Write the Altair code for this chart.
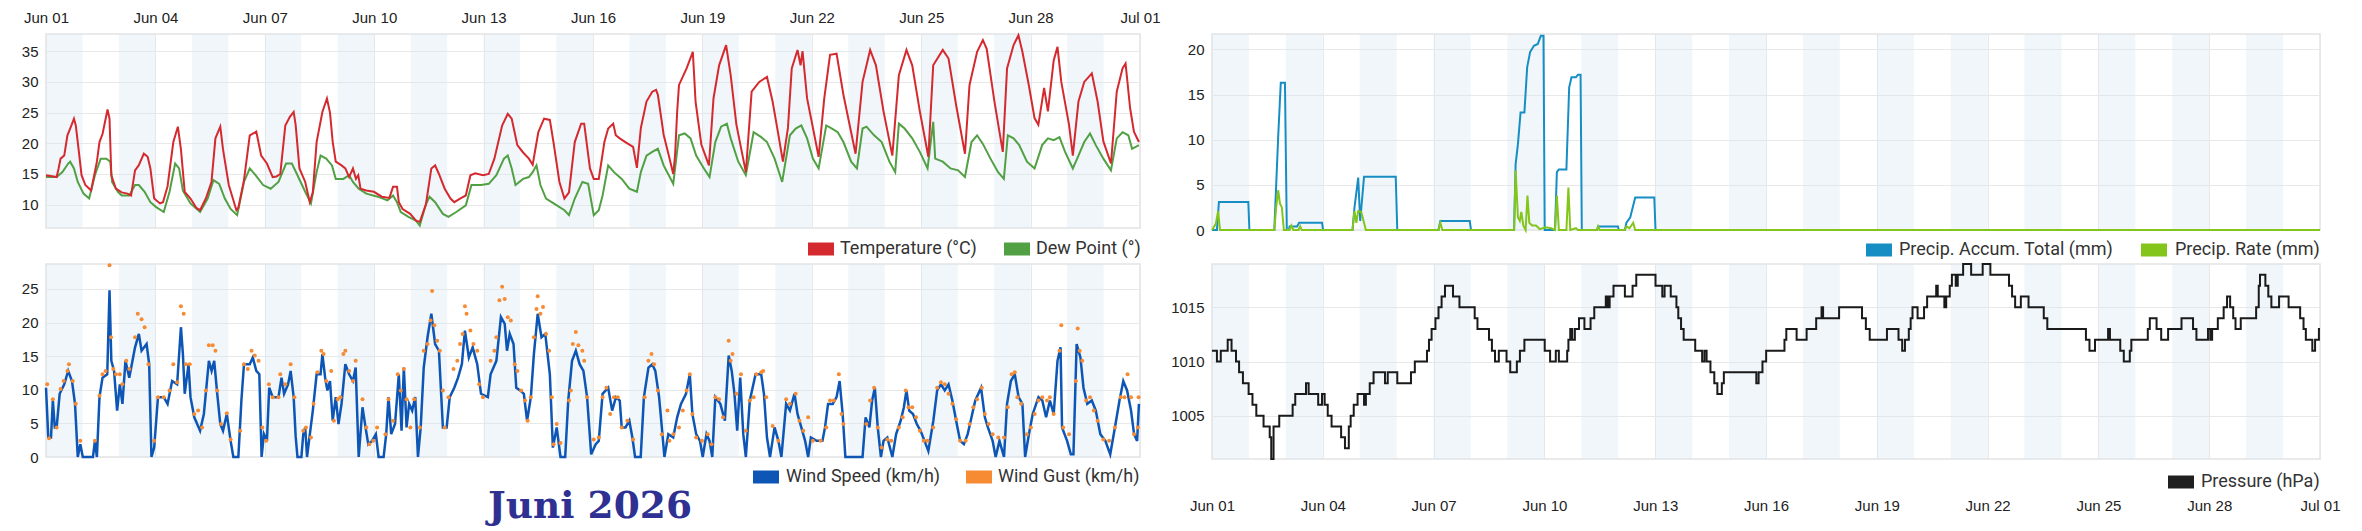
import altair as alt
import pandas as pd

# ── categories / tick labels ─────────────────────────────────────────
tick_labels = ["Jun 01", "Jun 04", "Jun 07", "Jun 10", "Jun 13", "Jun 16",
               "Jun 19", "Jun 22", "Jun 25", "Jun 28", "Jul 01"]
days = list(range(1, 31))

# ── series: (hours since Jun 01 00:00, value) ───
temperature = [
    (0, 14.8), (7, 14.5), (8.3, 15.9), (9.6, 17.5), (12, 18), (14.1, 21.3), (15.9, 22.4), (18.4, 24),
    (19.6, 22.9), (20.9, 20.2), (23.4, 14.8), (25.9, 13.2), (29.7, 12.3),
    (33.5, 17), (35.2, 20.2), (37.2, 21.5), (40.5, 25.5), (41.8, 24), (43, 14.8), (46, 12.6), (49.8, 12),
    (53.6, 11.8), (56, 11.5), (58.6, 15.6), (61, 16.4), (64.4, 18.3), (66.9, 17.8), (68.7, 15.9), (71.2, 11), (75, 10.2),
    (77, 10.4), (80, 13), (83.8, 20.2), (86.8, 22.7), (88.8, 19), (91.3, 12.1), (95.1, 11), (98.9, 9.5),
    (101.4, 9.1), (105.2, 11), (108.9, 13.7), (111.5, 20.8), (114.7, 22.7), (116.5, 19), (120.3, 13.2), (125.3, 9.1),
    (126.6, 9.5), (130.3, 14), (134.1, 21.3), (138.4, 21.9), (141.6, 18), (145.4, 16.7), (149.2, 14.5), (151.7, 14.6),
    (154.2, 15), (157.5, 22.9), (160.5, 24.3), (163, 25.1), (164.3, 23), (166.8, 15.9), (170.6, 13.7), (173.6, 10.4),
    (175.6, 12), (178.1, 20.2), (181.9, 25.1), (184.9, 27.3), (186.9, 25), (188.7, 20.2), (190.7, 17), (194.5, 16.4), (197, 15.9),
    (199.5, 14.5), (202, 15.9), (204, 14.2), (205.5, 14.8), (207, 12.6), (210.8, 12.3), (215.8, 12.1),
    (221, 11.3), (226, 11.1), (228.4, 12.9), (231, 12.9), (232.2, 10.4), (234.7, 9.3), (239.7, 8.5), (243.5, 7.4),
    (246, 7.2), (250, 10), (253.6, 15.9), (256.1, 16.4), (258.6, 15), (262.4, 12.6), (266.2, 11),
    (268.7, 10.4), (272.5, 11), (276.3, 11.5), (279.3, 14.8), (282.5, 15.1), (287.6, 14.8),
    (291.4, 15), (295.1, 17.5), (300.2, 22.9), (303.9, 24.8), (306.5, 24), (310.2, 19.7), (314, 18.5),
    (317.8, 17.5), (320.3, 16.5), (324, 21.8), (327.8, 24), (331.6, 23.8), (334.1, 20), (337.9, 13.7), (341.2, 11),
    (344.2, 12), (348, 20.2), (352.2, 23.2), (354.2, 23.2), (358, 15.9), (360.5, 14.2), (363.8, 14.2),
    (367.5, 20.2), (370, 22.4), (373.3, 23.2), (375, 21.3), (377.6, 20.8), (381.3, 20.2), (386.4, 19.4), (388.9, 16),
    (391.5, 22.5), (395.2, 26.8), (399, 28.4), (401.5, 28.7), (402.7, 27.9), (406.5, 21.4), (410.3, 17.6), (412.8, 15),
    (414, 18), (415.4, 25.2), (416.6, 29.5), (421.6, 32.2), (425.7, 34.9), (427.5, 26.8), (431.3, 19.8), (436.3, 16.4),
    (439.3, 27.3), (443, 32.7), (447.6, 36), (450.6, 31.1), (454.4, 23), (460.6, 15.3),
    (464.4, 28.4), (469.4, 30), (474.5, 30.8), (478.2, 26.8), (482, 21.4), (485, 17),
    (488.3, 22.5), (490.8, 32.2), (494.6, 35.2), (496.6, 32.7), (497.9, 35), (500.9, 27.3), (508.5, 17.8),
    (512.2, 27.3), (516, 34.4), (520.3, 34.6), (524.8, 27.9), (532.8, 18.3),
    (537.4, 30), (542.4, 35.2), (546.2, 32.7), (551.2, 25.2), (557, 18),
    (561.3, 31.1), (566.3, 35.2), (570.1, 32.7), (575.1, 25.2), (580.7, 17.8),
    (583.9, 32.7), (590.2, 35.2), (594, 33.8), (599, 26.2), (604.8, 18.3),
    (607.8, 29.5), (612.8, 34.9), (616.6, 36.8), (619.1, 35.4), (624.2, 26.8), (629.7, 18.6),
    (632.5, 32.2), (636.8, 36), (640, 37.6), (642.6, 34.9), (646.8, 29.5), (650.6, 24.1),
    (653.1, 23), (656.9, 29), (659.4, 25.2), (663.2, 33.5), (665.7, 35.7), (668.2, 30), (673.3, 23), (675.8, 18),
    (679.5, 26.8), (683.3, 30), (688.3, 31.4), (692.1, 26.8), (695.9, 20.3), (700.9, 16.7),
    (704.7, 28.4), (708.5, 32.2), (710.5, 33), (713.5, 25.7), (716, 21.9), (719.3, 20.2),
]

dew_point = [
    (0, 14.5), (7, 14.5), (10.8, 15.3), (14.6, 16.7), (15.9, 17), (18.4, 15.9), (20.9, 13.7), (24.7, 11.8), (28.4, 11),
    (32.2, 14.8), (36, 17.5), (39.8, 17.5), (42.3, 17), (43.5, 13.7), (47.3, 12.1), (49.8, 11.5), (54.8, 11.5),
    (58.6, 13.2), (61.1, 13.2), (64.9, 12.1), (68.7, 10.4), (72.5, 9.6), (77.5, 8.8), (81.3, 12.1), (85, 16.7),
    (87.6, 15.9), (90.1, 12.3), (95.1, 10.2), (101.4, 8.8), (106.4, 11), (110.2, 14), (114, 13.4), (117.7, 11),
    (121.5, 9.3), (125.8, 8.3), (130.3, 13.7), (134.1, 15.9), (137.9, 14.8), (142.9, 13.2), (147.9, 12.6), (153, 13.7),
    (158, 16.7), (161.8, 16.7), (165.5, 14.8), (170.6, 12.1), (174.4, 10.2), (178.1, 15.3), (180.7, 18), (184.4, 17.5),
    (188.2, 16.4), (190.7, 14.2), (195.7, 14.2), (199.5, 14.8), (202, 13.7), (205.8, 12.6), (210.8, 11.8), (218.4, 11.3),
    (224.7, 10.7), (228.4, 11.5), (231, 10.4), (233.5, 8.8), (238.5, 8), (243.5, 7.4), (246, 6.6), (249.8, 9.9),
    (252.4, 11.3), (256.1, 10.4), (261.2, 8.5), (264.9, 8), (270, 8.8), (276.3, 9.9), (280, 13.2), (286.3, 13.2),
    (291.4, 13.4), (296.4, 14.8), (301.4, 17.5), (303.9, 18), (306.5, 15.9), (309, 13.2), (314, 14.2), (317.8, 14.5),
    (320.3, 15.3), (322.8, 16.4), (325.4, 13.2), (329.1, 11), (334.1, 10.2), (341.2, 9.1), (344.2, 8.3), (348, 11),
    (353, 13.7), (356.8, 13.4), (360.5, 8.3), (363.8, 9.1), (366.3, 11.5), (370, 16.4), (373.8, 15.3), (378.9, 14.2),
    (383.9, 12.6), (388.9, 12.1), (391.5, 15.3), (395.2, 18), (399, 18.6), (402.7, 19.1), (406.5, 16.4), (412.8, 13.4),
    (416.6, 21.3), (420.4, 21.6), (424.2, 20.8), (427.9, 18), (433, 15.9), (436.7, 14.5), (440.5, 20.2), (444.3, 22.7),
    (448.1, 23.2), (450.6, 20.8), (455.6, 17), (460.6, 14.8), (465.7, 21.8), (470.7, 21), (474.5, 20.2), (479.5, 17.5),
    (484.5, 13.7), (489.6, 21.3), (493.4, 22.4), (497.1, 22.9), (500.9, 20.8), (504.7, 17.5), (508.5, 15.9),
    (513.5, 22.9), (517.3, 22.4), (521.1, 21.8), (524.8, 20.2), (529.9, 17), (533.7, 15.9), (537.4, 22.4), (540, 22.7),
    (545, 21.3), (550, 20.2), (555.1, 17), (558.9, 15.3), (561.3, 23.2), (565.1, 22.4), (570.1, 20.8), (575.1, 18.6),
    (580.2, 15.9), (583.9, 23.5), (585.2, 17.5), (590.2, 17), (595.3, 15.9), (600.3, 15.6), (604.8, 14.5),
    (609.1, 20.2), (612.8, 21.3), (616.6, 19.9), (621.6, 17.5), (626.6, 15.3), (630.4, 14.2), (633, 21.3),
    (636.8, 20.8), (640.5, 19.7), (645.6, 17), (650.6, 15.9), (655.6, 19.7), (659.4, 20.8), (663.2, 20.5), (667, 21),
    (670.7, 18.6), (675.8, 15.9), (679.5, 18), (683.3, 20.2), (687.1, 21.6), (690.9, 19.7), (695.9, 17.5),
    (700.9, 15.6), (704.7, 20.8), (708.5, 21.8), (712.3, 21.3), (714.8, 19.1), (719.3, 19.7),
]

wind_speed = [
    (0, 10.3), (1.5, 2.9), (3.3, 2.9), (4.5, 8.4), (5.8, 4.4), (7, 4.4), (9, 9.4), (12, 10.8), (14.6, 12.8), (17.1, 11.3),
    (19.1, 7.9), (20.9, 0), (22.6, 1.9), (24.2, 0), (30.9, 0), (32.2, 2.4), (33.5, 0), (35.2, 8.9), (37.2, 11.8),
    (40.3, 12.3), (41.8, 24.8), (43, 14.3), (44.8, 12.8), (46.8, 6.9), (48.6, 10.8), (50.3, 7.9), (52.3, 14.3),
    (54.8, 11.8), (58.6, 16.3), (61.1, 18.3), (62.9, 15.8), (66.2, 16.8), (67.9, 13.8), (69.4, 0), (71.2, 1.4),
    (73.7, 8.9), (77.5, 8.9), (80, 7.9), (83, 11.3), (86.3, 10.8), (88.8, 19.3), (90.1, 15.3), (91.3, 9.4), (93.8, 13.8),
    (95.1, 8.9), (97.6, 5.9), (101.4, 3.9), (103.9, 6.4), (107.2, 14.3), (109, 12.8), (110.7, 14.3), (112.7, 9.4),
    (114.7, 4.9), (116.5, 3.9), (119, 6.4), (121.5, 2.4), (123.3, 0), (126.6, 0), (128.6, 8.4), (130.3, 13.8),
    (134.1, 13.8), (136.1, 14.8), (138.4, 12.8), (140.4, 12.3), (141.9, 0), (143.4, 3.4), (145.4, 2.4), (146.9, 10.3),
    (149.2, 8.9), (153, 8.9), (155, 11.8), (156.7, 9.4), (159.3, 10.8), (161, 12.8), (163, 8.9), (164.3, 3.1),
    (165.5, 0), (168.1, 0), (169.3, 3.4), (170.6, 4.4), (171.8, 0), (173.1, 2.4), (175.6, 6.9), (178.1, 12.3),
    (180.7, 12.3), (181.9, 15.3), (183.7, 11.8), (185.2, 9.9), (186.9, 11.3), (188.7, 5.4), (190.7, 8.9), (192.5, 4.9),
    (194.5, 7.9), (197, 13.8), (199.5, 12.3), (202, 11.3), (203.8, 13.3), (205.8, 0), (208.3, 7.4), (210.3, 4.4),
    (212.1, 1.9), (214.6, 2.4), (217.1, 3.4), (218.9, 0), (222.2, 0), (223.9, 3.4), (225.4, 8.9), (227.2, 3.4),
    (229.7, 4.9), (232.2, 12.3), (234, 3.9), (235.5, 13.3), (237.3, 4.4), (239, 7.9), (241, 6.9), (243, 8.9),
    (244.8, 0), (246.6, 4.4), (248.6, 13.3), (251.1, 17.8), (253.6, 21.3), (256.1, 16.8), (258.6, 15.8), (261.2, 4.4),
    (263.7, 4.4), (265.7, 8.9), (268.7, 10.3), (271.2, 11.8), (273.7, 13.8), (275.7, 18.8), (278.3, 14.8),
    (280.8, 16.3), (283.8, 13.8), (286.3, 9.4), (290.8, 8.9), (292.6, 12.3), (296.4, 14.3), (299.4, 20.8),
    (301.9, 19.8), (303.4, 15.8), (305.2, 18.3), (307.7, 16.8), (309.5, 10.3), (312, 9.9), (314.5, 9.4), (316.6, 5.4),
    (319.1, 8.9), (321.1, 15.3), (323.6, 21.3), (326.1, 17.8), (328.6, 18.3), (331.6, 12.3), (333.6, 1.4),
    (336.1, 4.4), (338.6, 0), (341.7, 0), (343.7, 8.4), (346.2, 14.3), (348.7, 15.8), (351.2, 13.8), (353.7, 12.8),
    (356.1, 8.9), (358.8, 0.4), (361.8, 1.9),
    (363.8, 2.4), (366.3, 9.4), (370, 10.3), (372.6, 6.9), (375.1, 8.9), (377.6, 8.4), (378.9, 4.4), (381.4, 4.4),
    (383.9, 5.4), (385.9, 2.9), (387.7, 0), (391.4, 0), (393.5, 8.9), (396.5, 13.3), (399, 13.8), (401, 12.8),
    (403.5, 8.9), (405.3, 4.4), (407, 0), (409.6, 3.4), (412.8, 2.9), (415.4, 5.9), (417.9, 7.9), (421.2, 9.4),
    (423.7, 12.3), (425.4, 6.4), (427.9, 3.4), (430.4, 2.4), (432.2, 0), (434.7, 3.4), (436.7, 2.4), (438.5, 0),
    (440.5, 8.9), (443.8, 7.9), (446.8, 5.4), (449.3, 15.1), (451.3, 12.8), (453.1, 9.4), (454.9, 3.9), (456.9, 11.8),
    (458.9, 3.4), (460.6, 0), (463.2, 8.4), (467, 12.3), (470.7, 12.3), (472.5, 9.4), (474.5, 2.9), (476.5, 0),
    (479.5, 4.4), (482, 2.4), (484, 0), (487.1, 7.9), (489.6, 6.9), (492.6, 9.4), (494.6, 6.4), (497.1, 4.4),
    (499.6, 2.4), (501.6, 0), (503.4, 2.9), (507.2, 2.4), (511, 2.4), (512.7, 4.4), (514.7, 7.9), (517.8, 7.9),
    (520.3, 8.9), (522.3, 11.3), (524.3, 6.4), (526.1, 0), (537.4, 0), (539.4, 5.9), (541.9, 4.4), (543.7, 8.4),
    (545.5, 10.3), (547.4, 4.4), (549.5, 0), (551.2, 2.4), (553.7, 2.9), (557, 0), (559.5, 3.4), (562.5, 5.4),
    (564.6, 7.4), (566.3, 9.9), (568.1, 6.9), (570.6, 6.4), (573.1, 4.9), (575.6, 3.9), (578.2, 2.4), (580.7, 0.9),
    (584, 5.4), (586.5, 9.9), (589, 10.8), (591.5, 9.9), (594, 10.8), (596.5, 8.4), (599, 5.4), (601.6, 2.4),
    (604.1, 1.9), (606.6, 3.4), (609.1, 5.9), (611.6, 8.4), (615.4, 10.3), (617.9, 5.9), (619.9, 4.4), (623, 2.4),
    (625, 0), (627.5, 2.4), (630.5, 0), (632.5, 7.9), (635, 11.3), (637.6, 12.3), (640.1, 8.9), (642.6, 7.9),
    (644.4, 0), (646.9, 3.4), (649.4, 6.4), (653.2, 8.9), (655.7, 8.4), (658.2, 5.9), (660.7, 8.4), (663.2, 6.4),
    (665.7, 14.3), (667.7, 16.3), (668.7, 4.4), (672, 2.4), (674.5, 0.4), (676.2, 0.4), (678.3, 16.8), (680.8, 14.8),
    (682.8, 10.3), (685.3, 7.9), (688.3, 8.4), (690.9, 6.9), (693.9, 3.4), (697.2, 2.4), (700.4, 0.4), (703.5, 4.4),
    (706.5, 8.4), (709, 11.3), (711.5, 9.9), (714.1, 6.9), (716.1, 3.4), (718.1, 2.4), (719.3, 7.9),
]

wind_gust = [
    (0.8, 10.8), (2, 2.8), (4.5, 8.6), (7, 4.4), (9.6, 10.1), (11.6, 11.3), (14.1, 12.8), (15.1, 13.8), (17.6, 11.3),
    (19.6, 7.9), (22.6, 2.4), (32.2, 2.4), (35.2, 9.1), (37.2, 12.3), (39.2, 12.8), (41.8, 28.5), (42.8, 17.8),
    (44.3, 13.1), (46, 12.3), (48.6, 12.3), (50.3, 10.8), (52.8, 14.3), (54.8, 13.1), (58.6, 17.8), (60.4, 21.3),
    (62.9, 20.5), (64.9, 19.3), (67.4, 13.8), (71.2, 2.4), (73.7, 8.9), (77.5, 8.9), (81.3, 9.9), (83.8, 13.8),
    (86.3, 11.1), (88.8, 22.4), (90.6, 21.3), (92.1, 13.8), (94.6, 13.8), (97.6, 6.4), (100.1, 6.9), (102.7, 4.4),
    (105.2, 9.9), (107.2, 16.6), (109.7, 16.6), (111.5, 15.8), (112.7, 9.9), (115.2, 4.9), (119, 6.5), (121.5, 2.6),
    (127.8, 3.9), (130.3, 13.8), (132.8, 13.1), (135.3, 15.8), (137.4, 15.1), (139.9, 14.3), (142.4, 4.4),
    (144.9, 2.4), (146.7, 10.8), (149.2, 8.9), (153, 8.9), (154.2, 12.3), (157.5, 10.8), (161, 13.8), (163.5, 8.9),
    (169.3, 3.9), (171.1, 4.4), (174.4, 2.9), (176.1, 7.9), (178.6, 12.6), (181.2, 15.8), (182.7, 15.3), (184.4, 11.3),
    (187.7, 12.8), (189.5, 5.4), (192, 8.6), (193.7, 8.9), (195.7, 15.3), (197, 15.8), (199.5, 12.8), (202, 11.3),
    (203.8, 14.3), (208.3, 8.6), (210.8, 4.4), (212.8, 1.9), (215.4, 2.4), (217.9, 4.4), (223.4, 3.4), (225.4, 8.6),
    (228.4, 5.4), (231.5, 12.3), (233.5, 9.9), (235.5, 13.1), (237.3, 8.6), (239.8, 4.4), (242.3, 8.6), (246.1, 4.4),
    (248.6, 15.8), (251.1, 16.8), (253.1, 20.3), (254.1, 24.7), (255.6, 19.6), (257.4, 17.3), (259.2, 15.8),
    (261.2, 9.9), (262.4, 4.4), (264.9, 8.9), (268.2, 13.1), (270.7, 14.3), (272.5, 16.8), (274.2, 18.3),
    (275.7, 22.4), (276.8, 21.3), (279.3, 18.8), (281.3, 16.8), (283.8, 15.8), (285.1, 10.8), (287.6, 8.9),
    (292.6, 14.3), (295.1, 15.8), (296.4, 17.8), (298.4, 23.3), (300.2, 25.3), (301.9, 23.5), (303.9, 20.8),
    (305.9, 20.3), (308.5, 13.8), (310.2, 12.8), (312.7, 9.9), (315.3, 8.4), (317, 5.4), (319.1, 8.9), (321.1, 17.8),
    (322.8, 22), (323.6, 23.9), (325.4, 21.3), (327.1, 22.3), (329.1, 18.3), (331.1, 15.8), (332.9, 8.9),
    (334.1, 1.9), (336.1, 4.9), (338.6, 2.1), (344.2, 8.4), (345.4, 9.9), (346.7, 16.8), (348.7, 18.6), (350.4, 16.6),
    (353, 15.8), (354.2, 14.3), (356.1, 8.9), (360.5, 2.6),
    (363.8, 2.9), (366.3, 8.9), (368.8, 10.3), (371.3, 6.4), (373.8, 8.9), (376.3, 8.9), (378.9, 4.4), (382.6, 5.4),
    (386.4, 2.6), (394, 8.9), (396.5, 14.3), (398.5, 15.3), (400.2, 13.8), (402.7, 9.9), (405.3, 3.4), (409, 6.9),
    (410.3, 2.4), (412.8, 3.4), (416.6, 4.4), (419.1, 6.9), (421.6, 9.9), (423.7, 12.3), (425.4, 6.4), (427.9, 2.9),
    (431.7, 2.4), (435.5, 3.4), (438, 1.9), (440.5, 8.9), (443, 8.6), (445.6, 5.9), (449.3, 17.3), (450.6, 14.3),
    (451.8, 15.3), (454.4, 9.4), (457.4, 12.3), (460.6, 3.9), (463.2, 8.4), (465.7, 8.9), (467.5, 12.3), (470.7, 12.6),
    (472, 12.8), (474, 8.9), (478.2, 4.6), (482, 2.4), (487.1, 8.6), (489.6, 7.9), (493.4, 9.4), (495.9, 5.4),
    (498.4, 3.9), (501.6, 5.9), (504.7, 2.4), (509.8, 2.4), (513.5, 4.4), (516, 8.4), (518.5, 8.4), (521.8, 12.3),
    (523.6, 6.4), (524.8, 4.9), (539.9, 4.9), (542.4, 8.4), (545, 10.3), (547.4, 4.4), (550, 1.4), (553.7, 2.6),
    (556.3, 2.4), (561.3, 4.4), (563.8, 5.9), (565.8, 9.9), (567.6, 7.4), (570.1, 7.4), (572.6, 5.9), (575.1, 3.9),
    (577.7, 2.4), (580.2, 2.4), (583.9, 4.4), (586.5, 10.3), (589, 11.1), (591.5, 10.8), (594, 9.4), (596.5, 7.9),
    (599, 5.6), (601.6, 2.4), (605.3, 2.4), (607.8, 4.9), (610.3, 7.4), (612.8, 8.6), (615.9, 10.3), (617.9, 6.4),
    (620.4, 4.9), (623, 3.4), (626.7, 2.9), (630.5, 2.9), (633, 7.4), (635.5, 12.3), (637.6, 12.6), (639.3, 8.9),
    (641.8, 7.9), (645.6, 3.4), (648.2, 4.4), (650.7, 6.4), (653.2, 8.4), (655.7, 8.9), (658.8, 8.4), (660.7, 8.9),
    (663.2, 6.4), (667, 15.8), (668.2, 19.6), (669.5, 4.4), (673.3, 3.4), (677.8, 11.3), (679, 19.1), (680.3, 15.8),
    (682, 14.3), (684.5, 8.4), (687.1, 8.9), (689.6, 6.9), (692.1, 5.4), (695.9, 2.6), (699.7, 2.4), (703.5, 4.4),
    (707.3, 8.9), (709.8, 8.9), (711.8, 12.3), (714.1, 8.9), (716.1, 3.4), (718.6, 4.4), (719.1, 8.9),
]

precip_total = [
    (0, 0), (3.2, 0), (4.5, 3.1), (23.6, 3.1), (24.3, 0), (40.5, 0), (43, 10.3), (44.7, 16.3), (47.4, 16.3),
    (48.6, 0), (50, 0), (50.4, 0.4), (55.3, 0.4), (56.6, 0.8), (71.5, 0.8), (72.2, 0), (91.3, 0), (92.6, 2.5),
    (95, 5.8), (96.3, 1), (98.8, 5.9), (119.4, 5.9), (120.4, 0), (147.2, 0), (148.4, 1), (167.5, 1), (168.3, 0),
    (196.3, 0), (197.3, 7.3), (198.8, 9.5), (200.5, 13), (203, 13), (204.8, 18), (206.7, 19.7), (209.2, 20.4),
    (211.7, 20.6), (213.7, 21.5), (215.4, 21.5), (216.2, 0), (222.9, 0), (224.1, 6.4), (225.4, 6.7), (230.3, 6.7),
    (232.1, 15.8), (233.6, 16.9), (236.5, 16.9), (237.8, 17.2), (239.5, 17.2), (240.3, 0), (250.2, 0), (250.9, 0.4),
    (263.8, 0.4), (264.3, 0), (268.3, 0), (269.3, 0.8), (271.8, 1.4), (275, 3.6), (287.4, 3.6), (288.2, 0), (720, 0),
]

precip_rate = [
    (0, 0), (2.5, 0.7), (4, 2.1), (5.2, 0), (40.5, 0), (41.7, 2.5), (43, 4.4), (44.2, 2.9), (45.4, 2.5), (46.7, 0),
    (50.4, 0), (51.6, 0.5), (52.9, 0), (56.3, 0), (57.3, 0.4), (58.3, 0), (91.3, 0), (92.6, 2.1), (93.8, 0.8),
    (95, 2.1), (97, 2), (100, 0), (147.2, 0), (148.4, 0.8), (149.7, 0), (196.3, 0), (197.3, 6.6), (198.8, 1.4),
    (200, 1), (201, 2), (202.3, 0.5), (203.8, 0), (205, 3.8), (206.2, 0.8), (208, 0.5), (210.5, 0.5), (213, 0.1),
    (216.7, 0.3), (220.4, 0.2), (222.9, 0), (224.1, 3.8), (225.4, 0), (230.3, 0), (231.6, 4.7), (232.8, 0),
    (236.5, 0.2), (237.8, 0), (250.2, 0), (250.9, 0.4), (251.9, 0), (268.3, 0), (269.3, 0.4), (271.3, 0.2),
    (273.7, 0.8), (275, 0), (720, 0),
]

pressure = [
    (0, 1011), (3.2, 1010), (5.7, 1011), (10.2, 1012), (12.7, 1011), (15.6, 1010), (17.6, 1009), (20.1, 1008),
    (23.8, 1007), (26.3, 1006), (28.8, 1005), (33.5, 1004), (37.5, 1003), (38.5, 1001), (40, 1004), (43.7, 1005),
    (52.4, 1006), (54.1, 1007), (61.1, 1008), (62.8, 1007), (69, 1006), (71.5, 1007), (73.2, 1006), (75.2, 1005),
    (77.7, 1004), (83.9, 1003), (86.4, 1002), (88.9, 1004), (90.1, 1005), (92.1, 1006), (94.6, 1007), (98.8, 1006),
    (100, 1007), (102.5, 1008), (105, 1009), (112.4, 1008), (114.2, 1009), (120.4, 1008), (129.3, 1009),
    (131.8, 1010), (139.7, 1011), (141, 1012), (142.7, 1013), (145.2, 1014), (147.2, 1015), (149.2, 1016),
    (151.4, 1017), (156.6, 1016), (160.8, 1015), (170.7, 1014), (172.5, 1013), (180, 1012), (181.9, 1011),
    (183.9, 1010), (186.4, 1011), (191.4, 1010), (193.8, 1009), (198.1, 1010), (200.1, 1011), (203, 1012),
    (216.2, 1011), (219.7, 1010), (223.4, 1011), (225.4, 1010), (230.8, 1011), (231.6, 1012), (232.8, 1013),
    (234.1, 1012), (235.8, 1013), (238.5, 1014), (242, 1013), (246, 1014), (248.4, 1015), (255.9, 1016),
    (257.1, 1015), (258.4, 1016), (260.9, 1017), (268.3, 1016), (273.3, 1017), (275.7, 1018), (288.2, 1017),
    (292.6, 1016), (294.1, 1017), (298.1, 1016), (301.8, 1015), (303, 1014), (304.8, 1013), (306.5, 1012),
    (314, 1011), (318.5, 1010), (320, 1011), (321.4, 1010), (323.9, 1009), (326.4, 1008), (328.4, 1007),
    (331.3, 1008), (332.6, 1009), (353.7, 1008), (355.2, 1009), (357.7, 1010), (360.1, 1011), (372, 1012),
    (373.2, 1013), (379.9, 1012), (386.4, 1013), (392.6, 1014), (396.1, 1015), (397.1, 1014), (407.5, 1015),
    (422.4, 1014), (424.9, 1013), (427.4, 1012), (438.6, 1013), (446.1, 1012), (448.5, 1011), (450.3, 1012),
    (452.8, 1013), (454, 1014), (455.2, 1015), (458.5, 1014), (462.7, 1015), (464.7, 1016), (470.6, 1017),
    (471.6, 1016), (475.9, 1015), (477.1, 1016), (479.4, 1017), (480.8, 1018), (483.3, 1017), (484.6, 1018),
    (488.1, 1019), (493.3, 1018), (500.8, 1019), (505.8, 1018), (517.9, 1017), (519.9, 1016), (521.9, 1015),
    (525.6, 1016), (530.6, 1015), (540.5, 1014), (542.8, 1013), (567.9, 1012), (570.2, 1011), (573.8, 1012),
    (582.3, 1013), (583.5, 1012), (590.2, 1011), (592.5, 1010), (596.4, 1011), (597.4, 1012), (608.1, 1013),
    (609.4, 1014), (613.8, 1013), (616.8, 1012), (621.3, 1013), (630, 1014), (637.5, 1013), (639.7, 1012),
    (647.2, 1013), (648.7, 1012), (649.9, 1013), (653.6, 1014), (657.4, 1015), (659.6, 1016), (661.6, 1015),
    (663.6, 1014), (665.1, 1013), (668.5, 1014), (678.5, 1015), (680.2, 1017), (681, 1018), (684.5, 1017),
    (686.4, 1016), (688.4, 1015), (693.4, 1016), (699.6, 1015), (707.1, 1014), (709.3, 1013), (710.8, 1012),
    (715, 1011), (716.8, 1012), (719.3, 1013), (720, 1013),
]

# ── shared bits ──────────────────────────────────────────────────────
AX_FONT = "Liberation Sans"
LEG_FONT = "Roboto"
ONE = pd.DataFrame({"k": [0]})


def frame(pairs):
    return pd.DataFrame(pairs, columns=["h", "v"])


bands = pd.DataFrame({
    "h": [(d - 1) * 24 for d in days if d % 2 == 1],
    "h2": [d * 24 for d in days if d % 2 == 1],
})

label_js = "[" + ",".join(f"'{s}'" for s in tick_labels) + "]"
tick_vals = [72 * i for i in range(len(tick_labels))]
x_scale = alt.Scale(domain=[0, 720], nice=False, zero=False)


def x_enc(orient="bottom", show=False, pad=8):
    axis = alt.Axis(values=tick_vals, labelExpr=f"{label_js}[round(datum.value / 72)]",
                    orient=orient, labels=show, labelPadding=pad, labelFlush=False,
                    labelOverlap=False, title=None, grid=True)
    return alt.X("h:Q", scale=x_scale, axis=axis)


def y_enc(domain, values):
    axis = alt.Axis(values=values, title=None, grid=True, labelPadding=8, format="d")
    return alt.Y("v:Q", scale=alt.Scale(domain=domain, nice=False, zero=False), axis=axis)


def legend(items, y):
    out = []
    for label, color, sx, tx in items:
        out.append(alt.Chart(ONE).mark_rect(color=color).encode(
            x=alt.value(sx), x2=alt.value(sx + 26), y=alt.value(y - 6.5), y2=alt.value(y + 6.5)))
        out.append(alt.Chart(ONE).mark_text(
            text=label, align="left", baseline="middle", font=LEG_FONT, fontSize=18, color="#333333"
        ).encode(x=alt.value(tx), y=alt.value(y)))
    return out


def panel(w, h, xe, ye, marks, extra):
    band = alt.Chart(bands).mark_rect(color="#d4e4f2", opacity=0.35).encode(
        x=xe, x2="h2:Q", y=alt.value(0), y2=alt.value(h))
    layers = [band] + [m.encode(x=xe, y=ye) for m in marks] + extra
    return alt.layer(*layers).properties(width=w, height=h)


# ── top left: temperature / dew point ────────────────────────────────
LW, RW = 1094, 1108
temp_panel = panel(
    LW, 194, x_enc("top", True, 9), y_enc([6.2, 37.8], [10, 15, 20, 25, 30, 35]),
    [alt.Chart(frame(dew_point)).mark_line(color="#52a044", strokeWidth=2),
     alt.Chart(frame(temperature)).mark_line(color="#d42a2f", strokeWidth=2)],
    legend([("Temperature (°C)", "#d42a2f", 762, 794),
            ("Dew Point (°)", "#52a044", 958, 990)], 215),
)

# ── bottom left: wind ────────────────────────────────────────────────
title = alt.Chart(ONE).mark_text(
    text="Juni 2026", font="DejaVu Serif", fontWeight="bold", fontSize=37.5,
    color="#2e3192", align="center", baseline="alphabetic",
).encode(x=alt.value(544), y=alt.value(254))

wind_panel = panel(
    LW, 193, x_enc(), y_enc([0, 28.7], [0, 5, 10, 15, 20, 25]),
    [alt.Chart(frame(wind_speed)).mark_line(color="#0d56b5", strokeWidth=2.5),
     alt.Chart(frame(wind_gust)).mark_circle(color="#f68b33", size=16, opacity=1)],
    legend([("Wind Speed (km/h)", "#0d56b5", 707, 740),
            ("Wind Gust (km/h)", "#f68b33", 920, 952)], 213) + [title],
)

# ── top right: precipitation ─────────────────────────────────────────
precip_panel = panel(
    RW, 196, x_enc(), y_enc([0, 21.7], [0, 5, 10, 15, 20]),
    [alt.Chart(frame(precip_total)).mark_line(color="#168ec4", strokeWidth=2),
     alt.Chart(frame(precip_rate)).mark_line(color="#83c51b", strokeWidth=2)],
    legend([("Precip. Accum. Total (mm)", "#168ec4", 654, 687),
            ("Precip. Rate (mm)", "#83c51b", 929, 963)], 216),
)

# ── bottom right: pressure ───────────────────────────────────────────
pressure_panel = panel(
    RW, 195, x_enc("bottom", True, 39), y_enc([1001, 1019], [1005, 1010, 1015]),
    [alt.Chart(frame(pressure)).mark_line(color="#1a1a1a", strokeWidth=2, interpolate="step-after")],
    legend([("Pressure (hPa)", "#1f1f1f", 956, 989)], 218),
)

chart = (
    alt.concat(temp_panel, precip_panel, wind_panel, pressure_panel,
               columns=2, spacing={"row": 34, "column": 72}, bounds="flush")
    .properties(padding={"left": 12, "top": 1, "right": 5, "bottom": 0})
    .configure_view(stroke="#e3e3e3", strokeWidth=1.5)
    .configure_axis(labelFont=AX_FONT, labelFontSize=15, labelColor="#222222",
                    gridColor="#e8e8e8", gridWidth=1, domain=False, ticks=False)
)

chart.save("out.html", embed_options={"renderer": "svg", "actions": False})
print("out.html written")
